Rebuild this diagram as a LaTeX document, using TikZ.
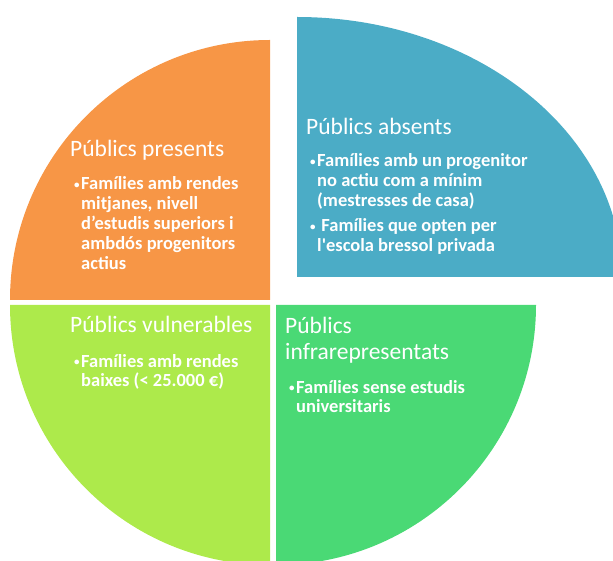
\documentclass[tikz,border=0pt]{standalone}
\usepackage{fontspec}
\setmainfont{Carlito}
\definecolor{orangec}{HTML}{F79646}
\definecolor{bluec}{HTML}{4BACC6}
\definecolor{limec}{HTML}{ADEA4B}
\definecolor{greenc}{HTML}{4AD975}
\tikzset{
  titletext/.style={anchor=base west, inner sep=0pt, text=white, font=\fontsize{23.5}{27}\selectfont},
  bullettext/.style={anchor=base west, inner sep=0pt, text=white, font=\bfseries\fontsize{18.5}{20}\selectfont},
}
\newcommand{\bl}{\makebox[7pt][l]{\fontsize{11}{11}\selectfont\raisebox{1.5pt}{•}}}
\newcommand{\ind}{\hspace*{7pt}}
\newcommand{\blines}[2]{\parbox[t]{#1}{\raggedright #2}}
\begin{document}
\begin{tikzpicture}[x=1pt,y=1pt]
\useasboundingbox (0,0) rectangle (613,560);
\begin{scope}
\clip (0,0) rectangle (613,560);
\fill[orangec] (270,260) -- (270,520) arc[start angle=90, end angle=180, radius=260] -- cycle;
\fill[bluec] (297,283) -- (297,543) arc[start angle=90, end angle=0, x radius=325, y radius=260] -- cycle;
\fill[limec] (270,255) -- (10,255) arc[start angle=180, end angle=270, radius=260] -- cycle;
\fill[greenc] (276,255) -- (536,255) arc[start angle=0, end angle=-90, radius=260] -- cycle;
\end{scope}
% titles
\node[titletext] (t1) at (70,403) {Públics presents};
\node[titletext] (t2) at (306,425) {Públics absents};
\node[titletext] (t3) at (70,227) {Públics vulnerables};
\node[titletext, align=left] (t4) at (285,226) {\blines{200pt}{Públics\\[-1pt]infrarepresentats}};
% bullets
\node[bullettext] (b1) at (74,370) {\blines{220pt}{\bl Famílies amb rendes\\\ind mitjanes, nivell\\\ind d’estudis superiors i\\\ind ambdós progenitors\\\ind actius}};
\node[bullettext] (b2) at (310,393) {\blines{300pt}{\bl Famílies amb un progenitor\\\ind no actiu com a mínim\\\ind (mestresses de casa)\\[5pt]\bl\ Famílies que opten per\\\ind l\textquotesingle escola bressol privada}};
\node[bullettext] (b3) at (74,193) {\blines{220pt}{\bl Famílies amb rendes\\\ind baixes (< 25.000 €)}};
\node[bullettext] (b4) at (289,167) {\blines{220pt}{\bl Famílies sense estudis\\\ind universitaris}};
\end{tikzpicture}
\end{document}
